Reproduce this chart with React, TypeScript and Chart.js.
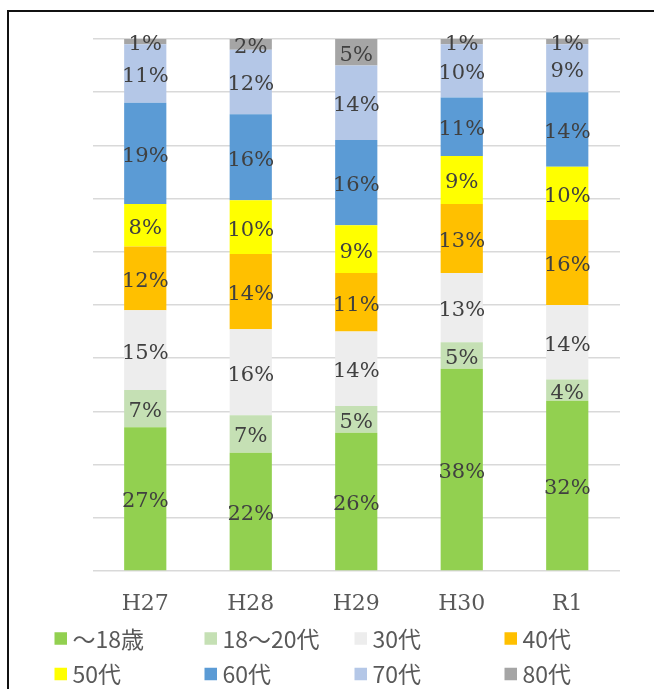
import React, { useEffect, useRef } from "react";
import { Chart, registerables } from "chart.js";

Chart.register(...registerables);

const categories = ["H27", "H28", "H29", "H30", "R1"];
const seriesNames = ["～18歳", "18～20代", "30代", "40代", "50代", "60代", "70代", "80代"];
const seriesColors = ["#92D050", "#C5E0B4", "#EDEDED", "#FFC000", "#FFFF00", "#5B9BD5", "#B4C7E7", "#A5A5A5"];

const under18 = [27, 22, 26, 38, 32];
const age18to20s = [7, 7, 5, 5, 4];
const age30s = [15, 16, 14, 13, 14];
const age40s = [12, 14, 11, 13, 16];
const age50s = [8, 10, 9, 9, 10];
const age60s = [19, 16, 16, 11, 14];
const age70s = [11, 12, 14, 10, 9];
const age80s = [1, 2, 5, 1, 1];

const yTicks = [0, 10, 20, 30, 40, 50, 60, 70, 80, 90, 100];

const seriesValues = [under18, age18to20s, age30s, age40s, age50s, age60s, age70s, age80s];

const totals = categories.map((_, i) => seriesValues.reduce((s, arr) => s + arr[i], 0));

const dataLabelPlugin = {
  id: "segmentLabels",
  afterDatasetsDraw(chart: any) {
    const ctx = chart.ctx;
    ctx.save();
    ctx.font = "21px 'DejaVu Serif'";
    ctx.fillStyle = "#404040";
    ctx.textAlign = "center";
    ctx.textBaseline = "middle";
    chart.data.datasets.forEach((ds: any, di: number) => {
      const meta = chart.getDatasetMeta(di);
      meta.data.forEach((bar: any, i: number) => {
        const raw = ds.rawValues[i];
        if (!raw) return;
        const cy = (bar.y + bar.base) / 2;
        ctx.fillText(raw + "%", bar.x, cy + 3);
      });
    });
    ctx.restore();
  },
};

const legendPlugin = {
  id: "gridLegend",
  afterDraw(chart: any) {
    const ctx = chart.ctx;
    ctx.save();
    ctx.font = "23px 'Noto Sans CJK JP'";
    ctx.textBaseline = "middle";
    ctx.textAlign = "left";
    chart.data.datasets.forEach((ds: any, di: number) => {
      const col = di % 4;
      const row = Math.floor(di / 4);
      const x = 54.5 + col * 150;
      const cy = 638.5 + row * 35.5;
      ctx.fillStyle = ds.backgroundColor;
      ctx.fillRect(x, cy - 6.25, 12.5, 12.5);
      ctx.fillStyle = "#595959";
      ctx.fillText(ds.label, x + 18, cy + 0.5);
    });
    ctx.restore();
  },
};

function BarChart() {
  const canvasRef = useRef<HTMLCanvasElement | null>(null);

  useEffect(() => {
    const canvas = canvasRef.current;
    if (!canvas) return;
    const datasets = seriesNames.map((name, si) => ({
      label: name,
      data: seriesValues[si].map((v, i) => (v / totals[i]) * 100),
      rawValues: seriesValues[si],
      backgroundColor: seriesColors[si],
      borderWidth: 0,
      categoryPercentage: 1,
      barPercentage: 0.4,
    }));
    const chart = new Chart(canvas, {
      type: "bar",
      data: { labels: categories, datasets: datasets as any },
      options: {
        responsive: false,
        animation: false,
        devicePixelRatio: 1,
        layout: { padding: { left: 92.5, right: 34, top: 39, bottom: 0 } },
        plugins: {
          legend: { display: false },
          tooltip: { enabled: false },
          title: { display: false },
        },
        scales: {
          x: {
            stacked: true,
            grid: { display: false, drawTicks: false },
            border: { display: false },
            ticks: {
              color: "#595959",
              font: { family: "'DejaVu Serif'", size: 22 },
              padding: 20,
            },
            afterFit: (s: any) => {
              s.height = 118;
            },
          },
          y: {
            stacked: true,
            min: 0,
            max: 100,
            afterBuildTicks: (s: any) => {
              s.ticks = yTicks.map((v) => ({ value: v }));
            },
            ticks: { display: false },
            grid: { color: "#D9D9D9", lineWidth: 1.5, drawTicks: false },
            border: { display: false },
            afterFit: (s: any) => {
              s.width = 0;
            },
          },
        },
      },
      plugins: [dataLabelPlugin, legendPlugin],
    });
    return () => chart.destroy();
  }, []);

  return <canvas ref={canvasRef} width={654} height={689} style={{ position: "absolute", left: 0, top: 0, width: 654, height: 689 }} />;
}

export default function App() {
  return (
    <div style={{ position: "fixed", left: 0, top: 0, width: 654, height: 689, overflow: "hidden", background: "#fff" }}>
      <div
        style={{
          position: "absolute",
          left: 7,
          top: 10,
          width: 800,
          height: 800,
          borderLeft: "2.5px solid #111",
          borderTop: "2.5px solid #111",
          boxSizing: "border-box",
        }}
      />
      <BarChart />
    </div>
  );
}
